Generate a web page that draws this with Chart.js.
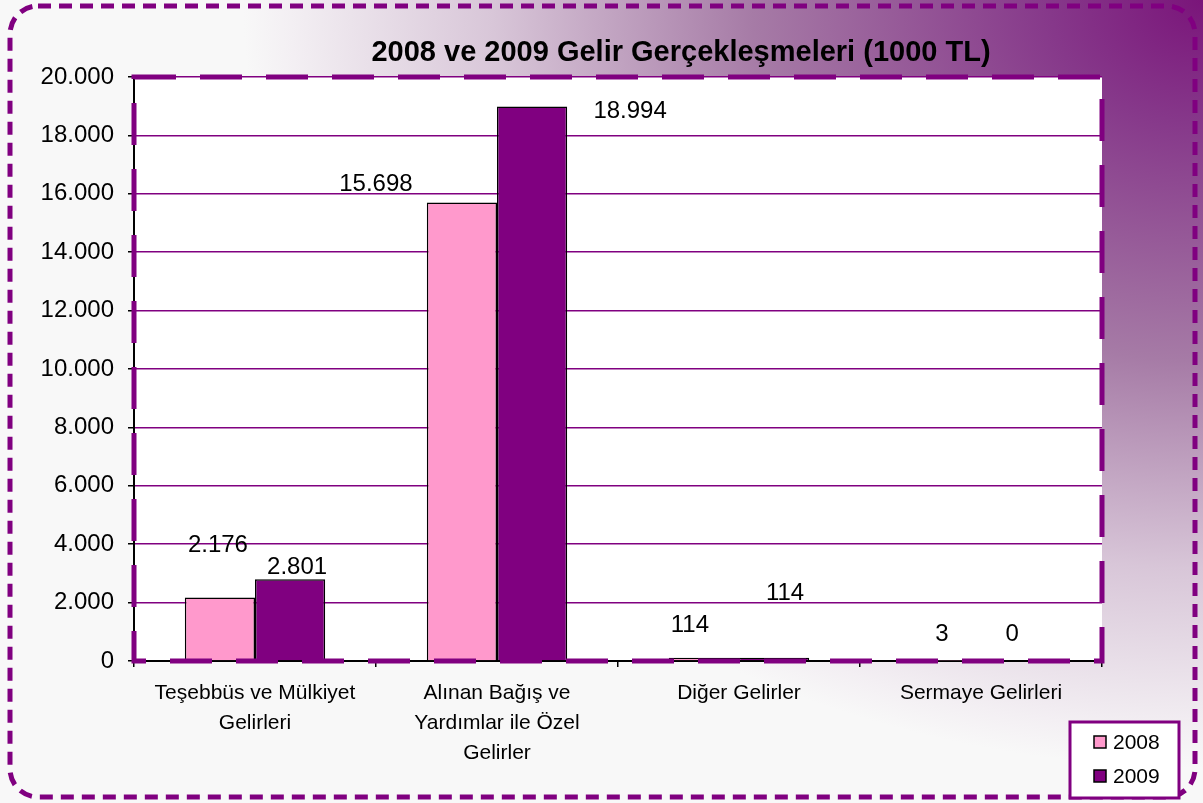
<!DOCTYPE html>
<html>
<head>
<meta charset="utf-8">
<script src="https://cdn.jsdelivr.net/npm/chart.js@4/dist/chart.umd.min.js"></script>
<style>
  html, body { margin: 0; padding: 0; background: #fff; }
  #wrap { width: 1203px; height: 803px; }
</style>
</head>
<body>
<div id="wrap"><canvas id="myChart" width="1203" height="803"></canvas></div>
<script>
// data
const categories = [
  ['Teşebbüs ve Mülkiyet', 'Gelirleri'],
  ['Alınan Bağış ve', 'Yardımlar ile Özel', 'Gelirler'],
  'Diğer Gelirler',
  'Sermaye Gelirleri'
]
const years = ['2008', '2009']
const values2008 = [2176, 15698, 114, 3]
const values2009 = [2801, 18994, 114, 0]
const yTicks = [0, 2000, 4000, 6000, 8000, 10000, 12000, 14000, 16000, 18000, 20000]

const titleText = '2008 ve 2009 Gelir Gerçekleşmeleri (1000 TL)'
const purple = '#800080'
const pink = '#ff99cc'
const font = '"Liberation Sans", Arial, sans-serif'

// where excel left each value label, relative to the top of its bar
const labelShift = [
  [[-2, -52], [-86, -18], [-14, -32], [-4, -27]],
  [[7, -12], [98, 5], [11, -64], [-4, -27]]
]

const fmt = v => v.toLocaleString('de-DE')

const decor = {
  id: 'decor',
  beforeDraw(chart) {
    const c = chart.ctx, a = chart.chartArea
    c.save()
    // corner gradient, stretched a bit wider than tall
    c.save()
    c.translate(1203, 0)
    c.scale(1, 0.8)
    const g = c.createRadialGradient(0, 0, 0, 0, 0, 960)
    g.addColorStop(0, '#7a157a')
    g.addColorStop(0.16, '#86388a')
    g.addColorStop(0.47, '#a67ba6')
    g.addColorStop(0.74, '#d8c6d8')
    g.addColorStop(0.95, '#f3eff3')
    g.addColorStop(1, '#f8f8f8')
    c.fillStyle = g
    c.fillRect(-1300, -10, 1400, 1100)
    c.restore()
    c.fillStyle = '#ffffff'
    c.fillRect(a.left, a.top, a.right - a.left, a.bottom - a.top)
    c.restore()
  },
  afterDraw(chart) {
    const c = chart.ctx, a = chart.chartArea
    c.save()
    // dashed frame round the plot
    c.strokeStyle = purple
    c.lineWidth = 5
    c.setLineDash([42, 24])
    c.strokeRect(a.left, a.top, a.right - a.left, a.bottom - a.top)

    // outer rounded dashed frame
    c.lineWidth = 5
    c.setLineDash([13, 8])
    c.beginPath()
    c.roundRect(10, 6, 1185, 791, 28)
    c.stroke()
    c.setLineDash([])

    // title
    c.fillStyle = '#000'
    c.font = 'bold 29px ' + font
    c.textAlign = 'center'
    c.textBaseline = 'middle'
    c.fillText(titleText, 681, 53)

    // value labels
    c.font = '24px ' + font
    chart.data.datasets.forEach((ds, di) => {
      chart.getDatasetMeta(di).data.forEach((bar, i) => {
        const s = labelShift[di][i]
        c.fillText(fmt(ds.data[i]), bar.x + s[0], bar.y + s[1])
      })
    })

    // legend box
    c.fillStyle = '#fff'
    c.fillRect(1070, 722, 109, 76)
    c.strokeStyle = purple
    c.lineWidth = 3
    c.strokeRect(1070, 722, 109, 76)
    c.font = '21px ' + font
    c.textAlign = 'left'
    chart.data.datasets.forEach((ds, di) => {
      const y = 742 + di * 34
      c.fillStyle = ds.backgroundColor
      c.fillRect(1094, y - 6, 12, 12)
      c.strokeStyle = '#000'
      c.lineWidth = 1.5
      c.strokeRect(1094, y - 6, 12, 12)
      c.fillStyle = '#000'
      c.fillText(ds.label, 1113, y + 1)
    })
    c.restore()
  }
}

const ctx = document.getElementById('myChart').getContext('2d')

let myChart = new Chart(ctx, {
  type: 'bar',
  data: {
    labels: categories,
    datasets: [
      {
        label: years[0],
        data: values2008,
        backgroundColor: pink,
        borderColor: '#000',
        borderWidth: 1.5,
        borderSkipped: 'bottom'
      },
      {
        label: years[1],
        data: values2009,
        backgroundColor: purple,
        borderColor: '#000',
        borderWidth: 1.5,
        borderSkipped: 'bottom'
      }
    ]
  },
  options: {
    responsive: false,
    animation: false,
    events: [],
    layout: { padding: { left: 34, right: 101, top: 77, bottom: 0 } },
    datasets: { bar: { categoryPercentage: 0.58, barPercentage: 1 } },
    plugins: {
      legend: { display: false },
      title: { display: false },
      tooltip: { enabled: false }
    },
    scales: {
      x: {
        offset: true,
        grid: {
          offset: true,
          drawOnChartArea: false,
          tickColor: '#000',
          tickLength: 6,
          lineWidth: 1.5
        },
        border: { color: '#000', width: 2 },
        ticks: {
          color: '#000',
          padding: 11,
          maxRotation: 0,
          autoSkip: false,
          font: { family: font, size: 21, lineHeight: 1.43 }
        },
        afterFit: s => { s.height = 142 }
      },
      y: {
        min: 0,
        max: 20000,
        afterBuildTicks: s => { s.ticks = yTicks.map(v => ({ value: v })) },
        grid: {
          color: purple,
          lineWidth: 1.5,
          tickColor: '#000',
          tickLength: 6
        },
        border: { color: '#000', width: 2 },
        ticks: {
          color: '#000',
          padding: 14,
          font: { family: font, size: 24 },
          callback: v => fmt(v)
        },
        afterFit: s => { s.width = 100 }
      }
    }
  },
  plugins: [decor]
})
</script>
</body>
</html>
